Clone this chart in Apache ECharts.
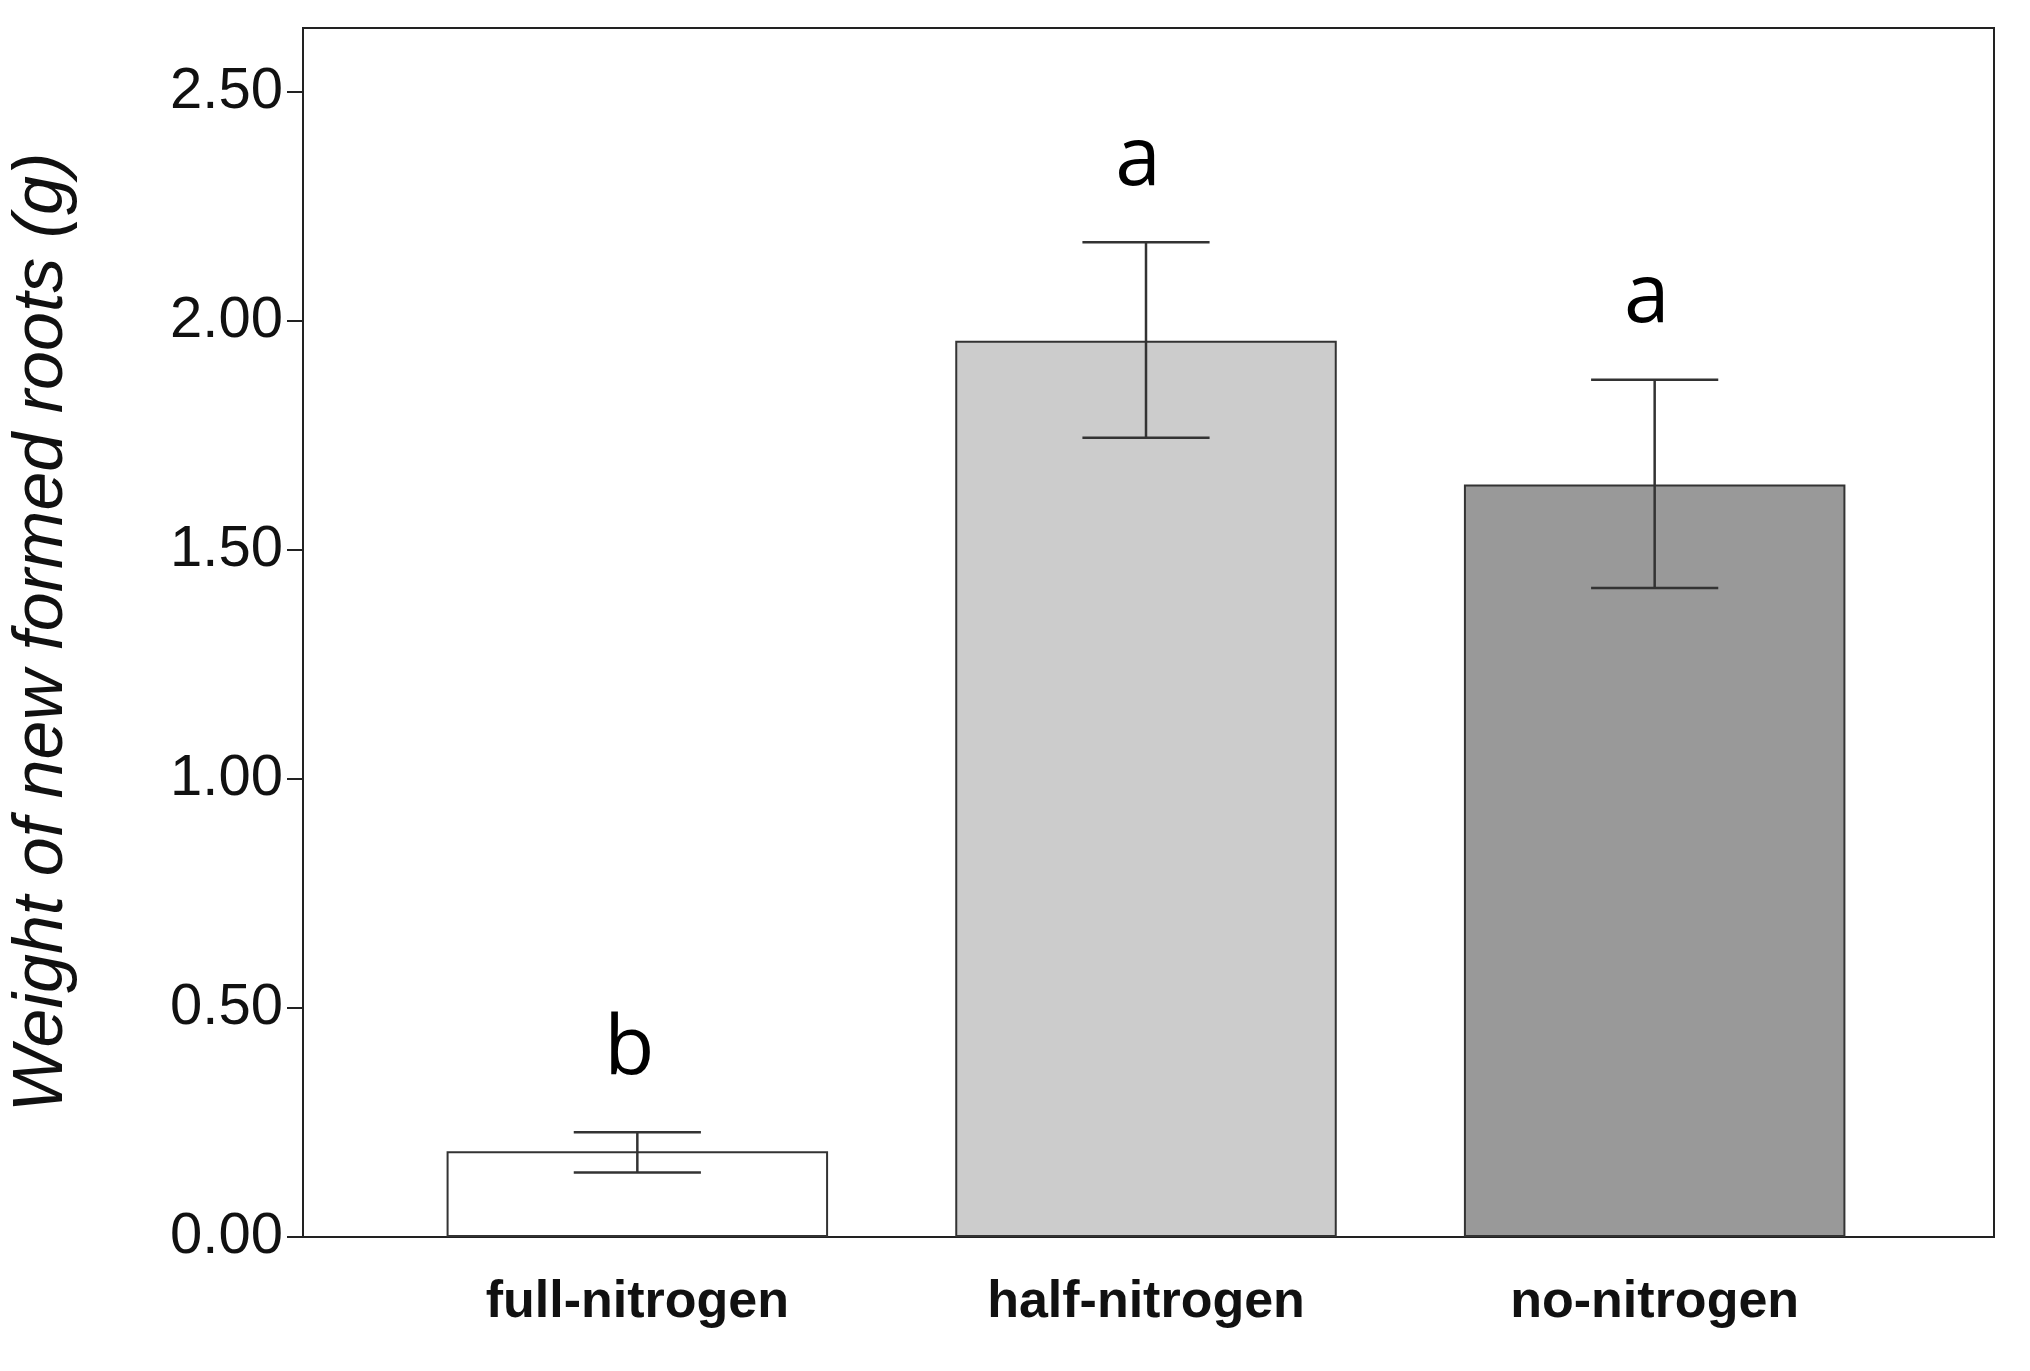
<!DOCTYPE html>
<html><head><meta charset="utf-8">
<script src="https://cdn.jsdelivr.net/npm/echarts@6/dist/echarts.min.js"></script>
<style>html,body{margin:0;background:#fff}#c{width:2030px;height:1371px}</style>
</head><body><div id="c"></div>
<script>
const categories = ['full-nitrogen','half-nitrogen','no-nitrogen'];
const means = [0.187, 1.957, 1.643];
const errLow = [0.141, 1.745, 1.417];
const errHigh = [0.229, 2.172, 1.872];
const letters = ['b','a','a'];
const barColors = ['#ffffff','#cccccc','#999999'];

const chart = echarts.init(document.getElementById('c'));
chart.setOption({
  animation:false,
  grid:[
    {left:298,right:36,top:28,bottom:134,show:true,borderColor:'#222',borderWidth:2,backgroundColor:'transparent'},
    {left:383,right:121,top:28,bottom:134}
  ],
  xAxis:[
    {type:'value',gridIndex:0,min:0,max:1,axisLine:{show:true,lineStyle:{color:'#222',width:2}},
     axisTick:{show:false},axisLabel:{show:false},splitLine:{show:false}},
    {type:'category',gridIndex:1,data:categories,
     axisLine:{show:false},
     axisTick:{alignWithLabel:true,length:34,lineStyle:{color:'#222',width:2}},
     axisLabel:{fontFamily:'Liberation Sans, Arial',fontWeight:'bold',fontSize:52,color:'#111',margin:40}}
  ],
  yAxis:[
    {type:'value',gridIndex:0,min:0,max:2.64,interval:0.5,
    name:'Weight of new formed roots (g)',nameLocation:'middle',nameGap:225,
    nameTextStyle:{fontFamily:'Liberation Sans, Arial',fontStyle:'italic',fontSize:70,color:'#111'},
    axisLine:{show:true,lineStyle:{color:'#222',width:2}},
    axisTick:{show:true,length:16,lineStyle:{color:'#222',width:2}},
    splitLine:{show:false},
    axisLabel:{showMaxLabel:false,fontFamily:'Liberation Sans, Arial',fontSize:58,color:'#111',margin:20,formatter:v=>v.toFixed(2)}},
    {type:'value',gridIndex:1,min:0,max:2.64,show:false}
  ],
  series:[
    {type:'bar',xAxisIndex:1,yAxisIndex:1,barWidth:'75%',data:means.map((v,i)=>({value:v,itemStyle:{color:barColors[i]}})),
     itemStyle:{borderColor:'#333',borderWidth:2},z:2},
    {type:'custom',xAxisIndex:1,yAxisIndex:1,z:5,data:categories.map((c,i)=>[i,errLow[i],errHigh[i]]),
     renderItem:(params,api)=>{
       const lo=api.coord([api.value(0),api.value(1)]);
       const hi=api.coord([api.value(0),api.value(2)]);
       const w=api.size([1,0])[0]*0.25/2;
       const st={stroke:'#333',lineWidth:2.5};
       return {type:'group',children:[
         {type:'line',shape:{x1:lo[0],y1:lo[1],x2:hi[0],y2:hi[1]},style:st},
         {type:'line',shape:{x1:lo[0]-w,y1:lo[1],x2:lo[0]+w,y2:lo[1]},style:st},
         {type:'line',shape:{x1:hi[0]-w,y1:hi[1],x2:hi[0]+w,y2:hi[1]},style:st},
         {type:'text',style:{text:letters[params.dataIndex],x:hi[0]-8,y:hi[1]-40,align:'center',verticalAlign:'bottom',
           fontFamily:'Open Sans',fontSize:82,fill:'#000'}}
       ]};
     }}
  ]
});
</script></body></html>
